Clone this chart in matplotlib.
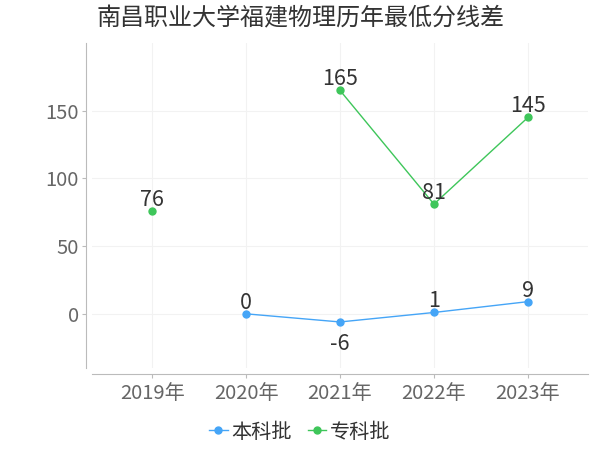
import matplotlib
matplotlib.use("Agg")
import matplotlib.pyplot as plt
import numpy as np

plt.rcParams['font.family'] = ['Noto Sans CJK SC', 'DejaVu Sans']

title = "南昌职业大学福建物理历年最低分线差"
years = ["2019年", "2020年", "2021年", "2022年", "2023年"]
benke = [None, 0, -6, 1, 9]
zhuanke = [76, None, 165, 81, 145]
series_names = ["本科批", "专科批"]
colors = ["#45a5f7", "#3ec65a"]

fig = plt.figure(figsize=(6, 4.5), dpi=100)
ax = fig.add_axes([92/600, 1-368/450, (588-92)/600, (368-43)/450])

x = np.arange(len(years))
for vals, c, name in zip([benke, zhuanke], colors, series_names):
    y = np.array([np.nan if v is None else v for v in vals], dtype=float)
    ax.plot(x, y, color=c, lw=1.0, marker='o', ms=5, label=name, zorder=3)
    for xi, v in zip(x, vals):
        if v is None:
            continue
        if v < 0:
            ax.annotate(str(v), (xi, v), xytext=(0, -8), textcoords='offset points',
                        ha='center', va='top', fontsize=15.5, color='#333333')
        else:
            ax.annotate(str(v), (xi, v), xytext=(0, 0), textcoords='offset points',
                        ha='center', va='bottom', fontsize=15.5, color='#333333')

ax.set_xlim(-0.64, 4.64)
ax.set_ylim(-40, 200)
ax.set_xticks(x)
ax.set_xticklabels(years)
ax.set_yticks([0, 50, 100, 150])
ax.grid(True, color='#f2f2f2', lw=0.8)
ax.set_axisbelow(True)
for s in ['top', 'right']:
    ax.spines[s].set_visible(False)
ax.spines['left'].set_position(('outward', 4))
ax.spines['bottom'].set_position(('outward', 4))
ax.spines['left'].set_color('#bbbbbb')
ax.spines['bottom'].set_color('#bbbbbb')
ax.tick_params(axis='both', colors='#bbbbbb', labelcolor='#666666', labelsize=14.5, length=3)
ax.tick_params(axis='y', pad=2.5)

fig.text(97/600, 1-18/450, title, fontsize=17.3, color='#333333', va='center', ha='left')

leg = fig.legend(loc='center', bbox_to_anchor=(0.5, 1-432/450), ncol=2, frameon=False,
                 fontsize=14.5, handlelength=0.9, handletextpad=0.2, columnspacing=0.8,
                 labelcolor='#333333')

fig.savefig("out.png", dpi=100)
